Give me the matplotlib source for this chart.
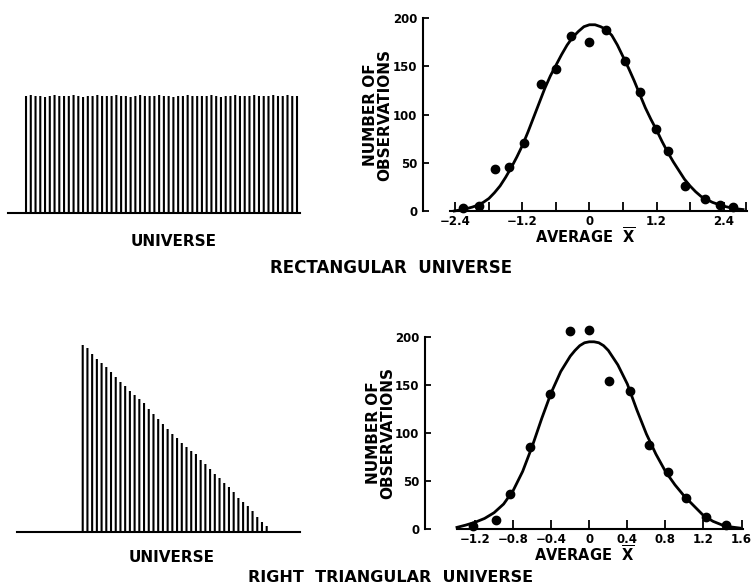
import numpy as np
import matplotlib
matplotlib.use("Agg")
import matplotlib.pyplot as plt

plt.rcParams['font.family'] = ['DejaVu Sans']
plt.rcParams['font.weight'] = 'bold'
plt.rcParams['axes.labelweight'] = 'bold'
plt.rcParams['mathtext.default'] = 'bf'

# rectangular universe (equal heights)
rect_bars = [117, 118, 117, 117, 116, 117, 118, 117, 117, 117, 118, 117, 116, 117, 117, 118,
             117, 117, 117, 118, 117, 117, 116, 117, 118, 117, 117, 117, 118, 117, 117, 116,
             117, 117, 118, 117, 117, 117, 117, 118, 117, 116, 117, 117, 118, 117, 117, 117,
             118, 117, 117, 117, 118, 117, 117, 118, 117, 117]

# right triangular universe
tri_bars = [187, 184, 178, 173, 169, 165, 160, 155, 150, 146, 141, 137, 133, 129, 123, 118,
            113, 108, 103, 98, 94, 89, 85, 81, 78, 72, 68, 63, 58, 54, 49, 45, 40, 34, 30,
            26, 21, 15, 10, 6]

# sample averages, rectangular universe
rect_avg = [-2.27, -1.97, -1.69, -1.44, -1.17, -0.87, -0.60, -0.33, 0.0, 0.30, 0.63, 0.91,
            1.19, 1.41, 1.71, 2.06, 2.33, 2.57]
rect_obs = [3, 5, 44, 46, 70, 132, 147, 181, 175, 188, 155, 123, 85, 62, 26, 12, 6, 4]
rect_curve_x = [-2.42, -2.3, -2.2, -2.1, -2.0, -1.9, -1.8, -1.7, -1.6, -1.5, -1.4, -1.3, -1.2,
                -1.1, -1.0, -0.9, -0.8, -0.7, -0.6, -0.5, -0.4, -0.3, -0.2, -0.1, 0.0, 0.1,
                0.2, 0.3, 0.4, 0.5, 0.6, 0.7, 0.8, 0.9, 1.0, 1.1, 1.2, 1.3, 1.4, 1.5, 1.6,
                1.7, 1.8, 1.9, 2.0, 2.2, 2.4, 2.6, 2.75]
rect_curve_y = [0, 1.2, 2.5, 4, 6, 9, 13, 19, 26, 35, 45, 56, 68, 82, 97, 112, 127, 140, 151,
                162, 172, 180, 186, 191, 193, 193, 191, 188, 182, 172, 160, 148, 135, 121,
                107, 95, 84, 72, 61, 51, 42, 33, 26, 20, 15, 9, 5, 2.5, 1.5]

# sample averages, right triangular universe
tri_avg = [-1.22, -0.98, -0.83, -0.62, -0.41, -0.20, 0.0, 0.21, 0.43, 0.63, 0.83, 1.02, 1.23, 1.44]
tri_obs = [3.5, 9, 36, 85, 141, 206, 207, 154, 144, 88, 59, 32, 12, 4]
tri_curve_x = [-1.39, -1.3, -1.2, -1.1, -1.0, -0.9, -0.8, -0.7, -0.6, -0.5, -0.4, -0.3, -0.2,
               -0.15, -0.1, -0.05, 0.0, 0.05, 0.1, 0.15, 0.2, 0.3, 0.4, 0.5, 0.6, 0.7, 0.8,
               0.9, 1.0, 1.1, 1.2, 1.3, 1.4, 1.5, 1.58]
tri_curve_y = [1.7, 4, 7, 11, 17, 26, 40, 60, 86, 115, 142, 164, 180, 186, 191, 194, 195, 195,
               194, 191, 186, 171, 151, 124, 99, 78, 60, 46, 34, 24, 14, 8, 4, 2, 1]

rect_ticks = [-2.4, -1.8, -1.2, -0.6, 0, 0.6, 1.2, 1.8, 2.4, 2.8]
rect_ticklabels = ['\u22122.4', '', '\u22121.2', '', '0', '', '1.2', '', '2.4', '']
tri_ticks = [-1.2, -0.8, -0.4, 0, 0.4, 0.8, 1.2, 1.6]
tri_ticklabels = ['\u22121.2', '\u22120.8', '\u22120.4', '0', '0.4', '0.8', '1.2', '1.6']

W, H = 752, 585
fig = plt.figure(figsize=(W / 100, H / 100), dpi=100)


def box(x0, y0, x1, y1):
    # pixel box (top-left origin) -> figure fraction
    return [x0 / W, 1 - y1 / H, (x1 - x0) / W, (y1 - y0) / H]


def universe(ax, heights, xlim, ylim):
    lines = ax.vlines(np.arange(len(heights)), 0, heights, color='black', lw=1.5)
    lines.set_snap(False)
    ax.set_xlim(*xlim)
    ax.set_ylim(*ylim)
    for s in ['top', 'right', 'left']:
        ax.spines[s].set_visible(False)
    ax.spines['bottom'].set_linewidth(1.5)
    ax.set_xticks([])
    ax.set_yticks([])
    ax.patch.set_alpha(0)


def sampling(ax, avg, obs, cx, cy, xlim, spine_lo, ticks, ticklabels):
    ax.plot(cx, cy, color='black', lw=2.0, clip_on=False, solid_joinstyle='round')
    ax.plot(avg, obs, 'o', color='black', ms=6, clip_on=False)
    ax.set_xlim(*xlim)
    ax.set_ylim(0, 200)
    ax.spines['top'].set_visible(False)
    ax.spines['right'].set_visible(False)
    ax.spines['left'].set_bounds(0, 200)
    ax.spines['bottom'].set_bounds(spine_lo, xlim[1])
    ax.spines['left'].set_linewidth(1.5)
    ax.spines['bottom'].set_linewidth(1.5)
    ax.set_yticks([0, 50, 100, 150, 200])
    ax.set_xticks(ticks)
    ax.set_xticklabels(ticklabels)
    ax.tick_params(axis='y', direction='in', length=4, width=1.3, pad=4, labelsize=8.5)
    ax.tick_params(axis='x', direction='in', length=6.5, width=1.3, pad=3, labelsize=8.5)
    ax.set_xlabel('AVERAGE  $\\overline{X}$', fontsize=10.5, labelpad=-1)
    ax.set_ylabel('NUMBER OF\nOBSERVATIONS', fontsize=11, linespacing=0.9)
    ax.yaxis.set_label_coords(-0.095, 0.5)
    ax.patch.set_alpha(0)


ax1 = fig.add_axes(box(8, 90, 300, 213))
universe(ax1, rect_bars, (-3.79, 57.63), (0, 123))

ax2 = fig.add_axes(box(423, 18, 747, 211))
sampling(ax2, rect_avg, rect_obs, rect_curve_x, rect_curve_y, (-2.98, 2.82), -2.5,
         rect_ticks, rect_ticklabels)

ax3 = fig.add_axes(box(17, 340, 300, 532))
universe(ax3, tri_bars, (-13.93, 46.06), (0, 192))

ax4 = fig.add_axes(box(425, 337, 743, 529))
sampling(ax4, tri_avg, tri_obs, tri_curve_x, tri_curve_y, (-1.726, 1.615), -1.39,
         tri_ticks, tri_ticklabels)

fig.text(174 / W, 1 - 242 / H, 'UNIVERSE', ha='center', va='center', fontsize=11)
fig.text(391 / W, 1 - 268 / H, 'RECTANGULAR  UNIVERSE', ha='center', va='center', fontsize=12)
fig.text(172 / W, 1 - 558 / H, 'UNIVERSE', ha='center', va='center', fontsize=11)
fig.text(391 / W, 1 - 577 / H, 'RIGHT  TRIANGULAR  UNIVERSE', ha='center', va='center', fontsize=11.5)

fig.savefig('out.png', dpi=100)
